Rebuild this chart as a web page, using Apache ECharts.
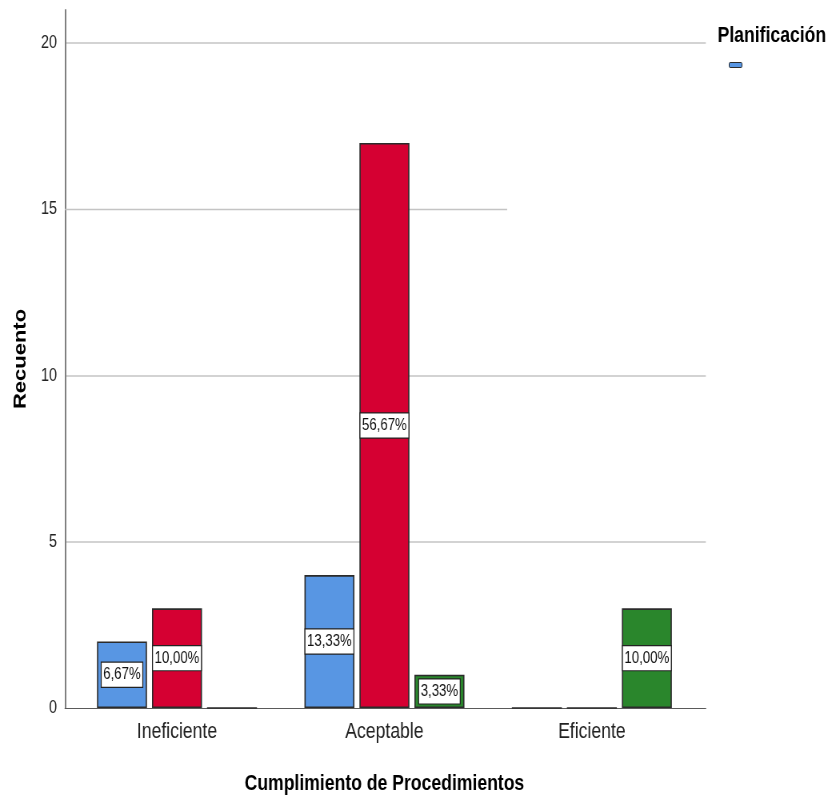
<!DOCTYPE html>
<html>
<head>
<meta charset="utf-8">
<script src="https://cdn.jsdelivr.net/npm/echarts@6/dist/echarts.min.js"></script>
<style>
  html, body { margin: 0; padding: 0; background: #fff; overflow: hidden; }
  /* the chart is laid out wide and compressed horizontally to 829px */
  #chart { width: 1036.25px; height: 802px; transform: scaleX(0.8); transform-origin: 0 0; }
</style>
</head>
<body>
<div id="chart"></div>
<script>
// Counts of "Cumplimiento de Procedimientos" by level of "Planificación"
const categories = ['Ineficiente', 'Aceptable', 'Eficiente'];
const seriesNames = ['Ineficiente', 'Aceptable', 'Eficiente'];
const countsBlue = [2, 4, 0];
const countsRed = [3, 17, 0];
const countsGreen = [0, 1, 3];
const total = 30;
const yTicks = [0, 5, 10, 15, 20];
// the 15 gridline stops partway across the plot
const shortLine = [[0, 15], [0.69, 15]];

const fontLabel = '"Liberation Sans", Arial, sans-serif';
const colors = ['#5896e3', '#d50032', '#2a862c'];
const Y_MAX = 21;

function pct(v) {
  return (v / total * 100).toFixed(2).replace('.', ',') + '%';
}

function barSeries(name, data, color) {
  return {
    name: name,
    type: 'bar',
    xAxisIndex: 1,
    yAxisIndex: 1,
    data: data.map(v => ({ value: v, label: { show: v > 0 } })),
    barWidth: 62.5,
    barGap: '10%',
    itemStyle: { color: color, borderColor: '#2b2b2b', borderWidth: 1.6 },
    label: {
      show: true,
      position: 'inside',
      formatter: p => pct(p.value),
      color: '#111',
      fontFamily: fontLabel,
      fontSize: 16.5,
      backgroundColor: '#fff',
      borderColor: '#222',
      borderWidth: 1.2,
      padding: [4, 2, 3, 2]
    },
    z: 3
  };
}

const chart = echarts.init(document.getElementById('chart'), null, { renderer: 'canvas' });
chart.setOption({
  animation: false,
  backgroundColor: '#fff',
  title: {
    text: 'Planificación',
    left: 892,
    top: 20,
    textStyle: { fontFamily: fontLabel, fontWeight: 'bold', fontSize: 22, color: '#000' }
  },
  legend: {
    data: [seriesNames[0]],
    left: 906,
    top: 57,
    itemWidth: 16,
    itemHeight: 5,
    formatter: () => '',
    selectedMode: false,
    itemStyle: { borderColor: '#2b2b2b', borderWidth: 1 }
  },
  grid: [
    { left: 81.25, right: 153.75, top: 10, bottom: 94, containLabel: false },
    { left: 91.6, right: 166.5, top: 10, bottom: 94, containLabel: false }
  ],
  xAxis: [
    {
      gridIndex: 0,
      type: 'value',
      min: 0,
      max: 1,
      axisLine: { show: true, onZero: false, lineStyle: { color: '#5a5a5a', width: 1.2 } },
      axisTick: { show: false },
      axisLabel: { show: false },
      splitLine: { show: false }
    },
    {
      gridIndex: 1,
      type: 'category',
      data: categories,
      name: 'Cumplimiento de Procedimientos',
      nameLocation: 'middle',
      nameGap: 65,
      nameTextStyle: { fontFamily: fontLabel, fontWeight: 'bold', fontSize: 22, color: '#000' },
      axisLine: { show: false },
      axisTick: { show: false },
      axisLabel: { fontFamily: fontLabel, fontSize: 22, color: '#222', margin: 13 }
    }
  ],
  yAxis: [
    {
      gridIndex: 0,
      type: 'value',
      min: 0,
      max: Y_MAX,
      interval: 5,
      name: 'Recuento',
      nameLocation: 'middle',
      nameGap: 44,
      nameTextStyle: { fontFamily: fontLabel, fontWeight: 'bold', fontSize: 22, color: '#000', letterSpacing: 4.5 },
      axisLine: { show: true, lineStyle: { color: '#808080', width: 2 } },
      axisTick: { show: false },
      axisLabel: {
        fontFamily: fontLabel, fontSize: 18, color: '#222', margin: 10,
        formatter: v => yTicks.indexOf(v) >= 0 ? String(v) : ''
      },
      splitLine: {
        show: true,
        showMinLine: false,
        showMaxLine: false,
        lineStyle: { color: ['#c4c4c4', '#c4c4c4', 'rgba(0,0,0,0)', '#c4c4c4'], width: 1.6 }
      }
    },
    {
      gridIndex: 1,
      type: 'value',
      min: 0,
      max: Y_MAX,
      interval: 5,
      show: false,
      splitLine: { show: false }
    }
  ],
  series: [
    barSeries(seriesNames[0], countsBlue, colors[0]),
    barSeries(seriesNames[1], countsRed, colors[1]),
    barSeries(seriesNames[2], countsGreen, colors[2]),
    {
      type: 'line',
      xAxisIndex: 0,
      yAxisIndex: 0,
      data: shortLine,
      symbol: 'none',
      silent: true,
      lineStyle: { color: '#c4c4c4', width: 1.6 },
      z: 1
    }
  ]
});
</script>
</body>
</html>
